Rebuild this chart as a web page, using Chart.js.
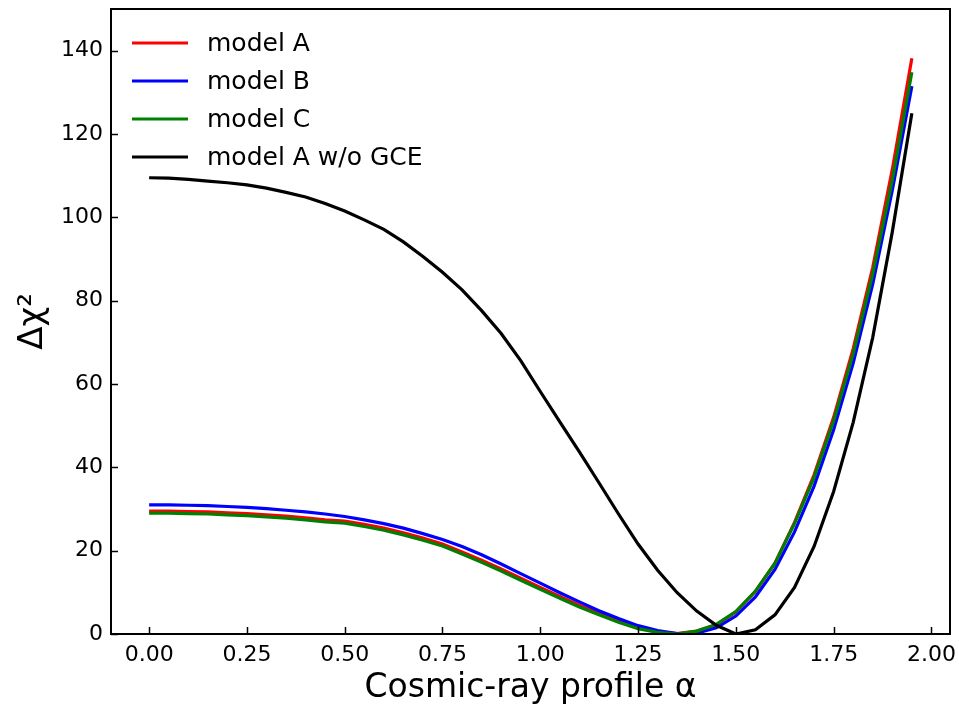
<!DOCTYPE html>
<html lang="en">
<head>
    <meta charset="UTF-8">
    <title>Delta chi2 vs cosmic-ray profile</title>
    <script src="https://cdn.jsdelivr.net/npm/chart.js"></script>
    <style>
        html, body { margin: 0; padding: 0; background: #fff; }
        #wrap { width: 959px; height: 705px; }
    </style>
</head>
<body>
    <div id="wrap"><canvas id="chi2Chart" width="959" height="705"></canvas></div>

    <script>
        // alpha grid (0.00 .. 1.95, step 0.05)
        const alpha = [0.00, 0.05, 0.10, 0.15, 0.20, 0.25, 0.30, 0.35, 0.40, 0.45,
                       0.50, 0.55, 0.60, 0.65, 0.70, 0.75, 0.80, 0.85, 0.90, 0.95,
                       1.00, 1.05, 1.10, 1.15, 1.20, 1.25, 1.30, 1.35, 1.40, 1.45,
                       1.50, 1.55, 1.60, 1.65, 1.70, 1.75, 1.80, 1.85, 1.90, 1.95];

        const modelA = [29.5, 29.5, 29.4, 29.3, 29.1, 28.9, 28.6, 28.3, 27.9, 27.4,
                        27.1, 26.3, 25.4, 24.3, 23.0, 21.6, 19.7, 17.7, 15.6, 13.4,
                        11.2, 9.0, 6.9, 5.0, 3.1, 1.6, 0.6, 0.1, 0.7, 2.2,
                        5.3, 10.2, 17.0, 26.8, 38.2, 52.0, 68.5, 88.0, 111.5, 138.2];

        const modelB = [31.0, 31.0, 30.9, 30.8, 30.6, 30.4, 30.1, 29.7, 29.3, 28.8,
                        28.2, 27.4, 26.5, 25.4, 24.1, 22.7, 21.0, 19.0, 16.8, 14.5,
                        12.2, 9.9, 7.7, 5.6, 3.7, 2.0, 0.8, 0.1, 0.2, 1.5,
                        4.3, 8.9, 15.5, 24.5, 35.5, 49.0, 65.0, 84.0, 106.5, 131.5];

        const modelC = [29.0, 29.0, 28.9, 28.8, 28.6, 28.4, 28.1, 27.8, 27.4, 26.9,
                        26.6, 25.8, 24.9, 23.8, 22.5, 21.1, 19.2, 17.2, 15.1, 12.9,
                        10.7, 8.6, 6.5, 4.6, 2.8, 1.3, 0.4, 0.0, 0.7, 2.3,
                        5.4, 10.3, 17.0, 26.5, 37.6, 51.2, 67.3, 86.5, 109.0, 134.8];

        const modelNoGCE = [109.5, 109.4, 109.1, 108.7, 108.3, 107.8, 107.0, 106.0, 104.9, 103.3,
                            101.5, 99.4, 97.1, 94.1, 90.6, 86.8, 82.6, 77.6, 72.1, 65.6,
                            58.2, 50.9, 43.7, 36.3, 28.8, 21.6, 15.3, 9.9, 5.5, 2.1,
                            0.0, 1.0, 4.6, 11.2, 21.0, 34.2, 50.8, 71.2, 96.5, 125.0];

        const seriesLabels = ['model A', 'model B', 'model C', 'model A w/o GCE'];
        const seriesColors = ['#ff0000', '#0000ff', '#008000', '#000000'];

        const xTicks = [0.00, 0.25, 0.50, 0.75, 1.00, 1.25, 1.50, 1.75, 2.00];
        const yTicks = [0, 20, 40, 60, 80, 100, 120, 140];

        const FONT = "'DejaVu Sans', sans-serif";

        function pairs(ys) {
            return alpha.map((a, i) => ({ x: a, y: ys[i] }));
        }

        // box frame + inward tick marks
        const frameTicks = {
            id: 'frameTicks',
            afterDatasetsDraw(chart) {
                const { ctx, chartArea: a, scales: { x, y } } = chart;
                ctx.save();
                ctx.strokeStyle = '#000';
                ctx.lineWidth = 1.5;
                ctx.beginPath();
                x.ticks.forEach(t => {
                    const px = Math.round(x.getPixelForValue(t.value)) + 0.5;
                    ctx.moveTo(px, a.bottom);
                    ctx.lineTo(px, a.bottom - 7);
                });
                y.ticks.forEach(t => {
                    const py = Math.round(y.getPixelForValue(t.value)) + 0.5;
                    ctx.moveTo(a.left, py);
                    ctx.lineTo(a.left + 7, py);
                });
                ctx.stroke();
                ctx.lineWidth = 2;
                ctx.strokeRect(a.left, a.top, a.right - a.left, a.bottom - a.top);
                ctx.restore();
            }
        };

        // legend without frame, top-left inside the axes
        const boxLegend = {
            id: 'boxLegend',
            afterDraw(chart) {
                const { ctx } = chart;
                ctx.save();
                ctx.font = '25px ' + FONT;
                ctx.textBaseline = 'middle';
                ctx.fillStyle = '#000';
                chart.data.datasets.forEach((ds, i) => {
                    const yy = 43 + i * 38;
                    ctx.strokeStyle = ds.borderColor;
                    ctx.lineWidth = 3.2;
                    ctx.beginPath();
                    ctx.moveTo(132, yy);
                    ctx.lineTo(188, yy);
                    ctx.stroke();
                    ctx.fillText(ds.label, 207, yy + 1);
                });
                ctx.restore();
            }
        };

        const datasets = [modelA, modelB, modelC, modelNoGCE].map((ys, i) => ({
            label: seriesLabels[i],
            data: pairs(ys),
            borderColor: seriesColors[i],
            backgroundColor: seriesColors[i],
            borderWidth: 3.2,
            pointRadius: 0,
            tension: 0,
            fill: false,
            order: 4 - i
        }));

        new Chart(document.getElementById('chi2Chart'), {
            type: 'line',
            data: { datasets },
            options: {
                responsive: false,
                animation: false,
                devicePixelRatio: 1,
                layout: { padding: { top: 9, right: 9, left: 0, bottom: 0 } },
                plugins: {
                    legend: { display: false },
                    tooltip: { enabled: false }
                },
                scales: {
                    x: {
                        type: 'linear',
                        min: -0.0975,
                        max: 2.0475,
                        afterBuildTicks: s => { s.ticks = xTicks.map(v => ({ value: v })); },
                        afterFit: s => {
                            s.height = 71;
                            s.paddingLeft = 0;
                            s.paddingRight = 0;
                        },
                        grid: { display: false, drawTicks: false },
                        border: { display: false },
                        ticks: {
                            font: { family: FONT, size: 22 },
                            color: '#000',
                            padding: 8,
                            maxRotation: 0,
                            callback: v => v.toFixed(2)
                        },
                        title: {
                            display: true,
                            text: 'Cosmic-ray profile α',
                            font: { family: FONT, size: 33, lineHeight: 1 },
                            color: '#000',
                            padding: { top: 0, bottom: 0 }
                        }
                    },
                    y: {
                        min: 0,
                        max: 150,
                        afterBuildTicks: s => { s.ticks = yTicks.map(v => ({ value: v })); },
                        afterFit: s => {
                            s.width = 111;
                            s.paddingTop = 0;
                            s.paddingBottom = 0;
                        },
                        grid: { display: false, drawTicks: false },
                        border: { display: false },
                        ticks: {
                            font: { family: FONT, size: 22 },
                            color: '#000',
                            padding: 8
                        },
                        title: {
                            display: true,
                            text: 'Δχ²',
                            font: { family: FONT, size: 34, lineHeight: 1 },
                            color: '#000',
                            padding: { top: 16, bottom: 0 }
                        }
                    }
                }
            },
            plugins: [frameTicks, boxLegend]
        });
    </script>
</body>
</html>
